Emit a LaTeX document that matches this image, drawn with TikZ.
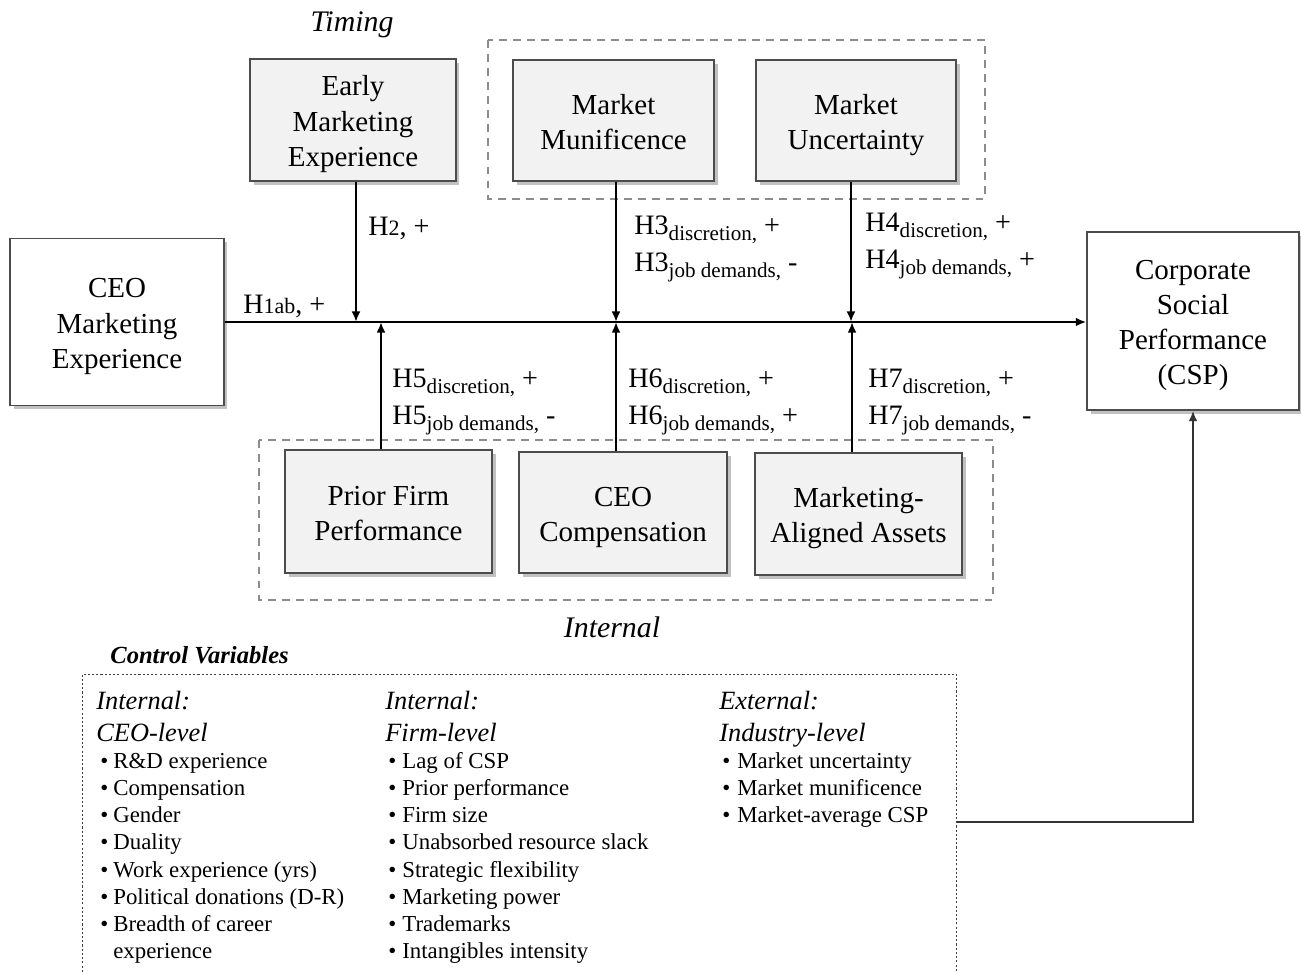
\documentclass[tikz,border=0pt]{standalone}
\usepackage{fontspec}
\setmainfont{Liberation Serif}
\usetikzlibrary{positioning,arrows.meta,shadows,calc}

% subscript of a hypothesis label
\newcommand{\hsub}[1]{\raisebox{-3.5pt}{\fontsize{12}{12}\selectfont #1}}
\newcommand{\hsmall}[1]{{\fontsize{12.5}{12}\selectfont #1}}
% box text, set a little low as in the figure
\newcommand{\boxtext}[1]{\raisebox{-2.3pt}[\height][\depth]{\begin{tabular}{@{}c@{}}#1\end{tabular}}}

\tikzset{
  factor/.style={draw=black!70, line width=0.8pt, fill=#1, inner sep=0pt,
    font=\fontsize{16.5}{20}\selectfont,
    drop shadow={shadow xshift=2pt, shadow yshift=-2pt, opacity=0.35, fill=black!70}},
  factor/.default=black!5,
  flow/.style={line width=1.6pt, -{Latex[length=6pt,width=5pt]}},
  hyp/.style={anchor=west, align=left, inner sep=0pt, font=\fontsize{16}{21}\selectfont},
  group/.style={draw=black!45, line width=1.1pt, dash pattern=on 4.5pt off 3.5pt},
  grouplab/.style={font=\itshape\fontsize{17}{20}\selectfont},
  cvhead/.style={anchor=base west, inner sep=0pt, font=\itshape\fontsize{15}{18}\selectfont},
  cvitem/.style={anchor=base west, inner sep=0pt, font=\fontsize{13}{15}\selectfont}
}

\begin{document}
\begin{tikzpicture}[x=0.02cm, y=-0.02cm]
\clip (0,0) rectangle (1301,971);

% dashed groups
\draw[group] (488,40) rectangle (985,199);
\draw[group] (259,440) rectangle (993,600);
\node[grouplab] (timing) at (352,25) {Timing};
\node[grouplab] (internal) at (612,627) {Internal};

% main constructs
\node[factor=white, minimum width=4.28cm, minimum height=3.34cm] (ceo) at (117,322) {\boxtext{CEO\\Marketing\\Experience}};
\node[factor=white, minimum width=4.24cm, minimum height=3.56cm] (csp) at (1193,321) {\boxtext{Corporate\\Social\\Performance\\(CSP)}};

% moderators
\node[factor, minimum width=4.12cm, minimum height=2.44cm] (early) at (353,120) {\boxtext{Early\\Marketing\\Experience}};
\node[factor, minimum width=4.02cm, minimum height=2.42cm] (muni) at (613.5,120.5) {\boxtext{Market\\Munificence}};
\node[factor, minimum width=4.00cm, minimum height=2.42cm] (unc) at (856,120.5) {\boxtext{Market\\Uncertainty}};
\node[factor, minimum width=4.14cm, minimum height=2.46cm] (prior) at (388.5,511.5) {\boxtext{Prior Firm\\Performance}};
\node[factor, minimum width=4.16cm, minimum height=2.42cm] (comp) at (623,512.5) {\boxtext{CEO\\Compensation}};
\node[factor, minimum width=4.14cm, minimum height=2.44cm] (assets) at (858.5,514) {\boxtext{Marketing-\\Aligned Assets}};

% junctions on the main path
\coordinate (j2) at (356,322);
\coordinate (j3) at (616,322);
\coordinate (j4) at (851,322);
\coordinate (j5) at (381,322);
\coordinate (j6) at (616,322);
\coordinate (j7) at (852,322);

\draw[flow] (ceo.east) -- (ceo.east -| csp.west);
\draw[flow] (early.south -| j2) -- (j2);
\draw[flow] (muni.south -| j3) -- (j3);
\draw[flow] (unc.south -| j4) -- (j4);
\draw[flow] (prior.north -| j5) -- (j5);
\draw[flow] (comp.north -| j6) -- (j6);
\draw[flow] (assets.north -| j7) -- (j7);

% hypotheses
\node[hyp] (lab1) at (243,306) {H\hsmall{1ab}, +};
\node[hyp] (lab2) at (368,228) {H\hsmall{2}, +};
\node[hyp] (lab3) at (634,249) {H3\hsub{discretion,} +\\H3\hsub{job demands,} -};
\node[hyp] (lab4) at (865,246) {H4\hsub{discretion,} +\\H4\hsub{job demands,} +};
\node[hyp] (lab5) at (392,402) {H5\hsub{discretion,} +\\H5\hsub{job demands,} -};
\node[hyp] (lab6) at (628,402) {H6\hsub{discretion,} +\\H6\hsub{job demands,} +};
\node[hyp] (lab7) at (868,402) {H7\hsub{discretion,} +\\H7\hsub{job demands,} -};

% control variables
\node[anchor=west, inner sep=0pt, font=\bfseries\itshape\fontsize{14}{16}\selectfont] (cvtitle) at (110,655) {Control Variables};
\node[draw=black!75, line width=0.6pt, dash pattern=on 1.2pt off 1.2pt, minimum width=17.5cm, minimum height=6.32cm] (ctrl) at (519.5,832) {};

\node[cvhead] (h1a) at (96,709) {Internal:};
\node[cvhead] (h1b) at (96,741) {CEO-level};
\node[cvhead] (h2a) at (385,709) {Internal:};
\node[cvhead] (h2b) at (385,741) {Firm-level};
\node[cvhead] (h3a) at (719,709) {External:};
\node[cvhead] (h3b) at (719,741) {Industry-level};

\foreach \txt [count=\i] in {R\&D experience, Compensation, Gender, Duality, Work experience (yrs), Political donations (D-R), Breadth of career}{
  \node[cvitem] (b1-\i) at (100,{741+27.2*\i}) {\textbullet};
  \node[cvitem] (c1-\i) at (113,{741+27.2*\i}) {\txt};
}
\node[cvitem] (c1-8) at (113,958.6) {experience};
\foreach \txt [count=\i] in {Lag of CSP, Prior performance, Firm size, Unabsorbed resource slack, Strategic flexibility, Marketing power, Trademarks, Intangibles intensity}{
  \node[cvitem] (b2-\i) at (388,{741+27.2*\i}) {\textbullet};
  \node[cvitem] (c2-\i) at (402,{741+27.2*\i}) {\txt};
}
\foreach \txt [count=\i] in {Market uncertainty, Market munificence, Market-average CSP}{
  \node[cvitem] (b3-\i) at (722,{741+27.2*\i}) {\textbullet};
  \node[cvitem] (c3-\i) at (737,{741+27.2*\i}) {\txt};
}

\coordinate (cvexit) at (957,822);
\draw[draw=black!80, line width=1.1pt, -{Latex[length=6pt,width=5pt]}] (cvexit) -| (csp.south);
\end{tikzpicture}
\end{document}
